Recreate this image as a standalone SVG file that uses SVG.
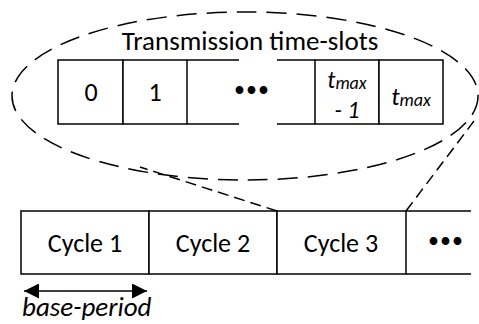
<svg xmlns="http://www.w3.org/2000/svg" width="479" height="324" viewBox="0 0 479 324">
<defs>
<marker id="ah" viewBox="0 0 10 10" refX="10" refY="5" markerWidth="21" markerHeight="15" markerUnits="userSpaceOnUse" orient="auto-start-reverse"><path d="M0,0 L10,5 L0,10 Z" fill="#000"/></marker>
</defs>
<style>
text{font-family:"Carlito","Lato","Liberation Sans",sans-serif;fill:#000}
.b{fill:#fff;stroke:#000;stroke-width:1.5}
.l{stroke:#000;stroke-width:1.5;fill:none}
.t{font-size:26px;text-anchor:middle}
.c{font-size:26px;text-anchor:middle}
.i{font-style:italic;font-size:25px}
.s{font-size:18px}
.dots{font-size:22px;text-anchor:middle;letter-spacing:1px}
.d{stroke:#000;stroke-width:1.5;fill:none;stroke-dasharray:11 6}
</style>
<rect width="479" height="324" fill="#fff"/>
<g id="connectors">
<ellipse cx="245" cy="96" rx="233" ry="84" fill="none" stroke="#000" stroke-width="1.5" stroke-dasharray="20 10"/>
<line class="d" x1="277" y1="211" x2="140" y2="167"/>
<line class="d" x1="406" y1="211" x2="474" y2="121"/>
<line class="l" x1="24" y1="291" x2="147" y2="291" marker-start="url(#ah)" marker-end="url(#ah)"/>
</g>
<g id="timeslots">
<text class="c" x="250" y="50" style="font-size:27px">Transmission time-slots</text>
<g id="slot0"><rect class="b" x="58" y="60" width="65" height="64"/><text class="t" x="91" y="101">0</text></g>
<g id="slot1"><rect class="b" x="123" y="60" width="64" height="64"/><text class="t" x="155" y="101">1</text></g>
<g id="slotdots">
<path class="l" d="M187,60 H239 M277,60 H315 M187,124 H239 M277,124 H315"/>
<text class="dots" x="252" y="97">•••</text>
</g>
<g id="slotmax1"><rect class="b" x="315" y="60" width="64" height="64"/>
<text class="t i" x="347" y="88" style="font-size:24px">t<tspan class="s" dy="1">max</tspan></text>
<text class="t i" x="347" y="118" style="font-size:24px">- 1</text></g>
<g id="slotmax"><rect class="b" x="379" y="60" width="64" height="64"/>
<text class="t i" x="411" y="105">t<tspan class="s" dy="1">max</tspan></text></g>
</g>
<g id="cycle1"><rect class="b" x="21" y="211" width="128" height="63"/><text class="c" x="85" y="252">Cycle 1</text></g>
<g id="cycle2"><rect class="b" x="149" y="211" width="128" height="63"/><text class="c" x="213" y="252">Cycle 2</text></g>
<g id="cycle3"><rect class="b" x="277" y="211" width="129" height="63"/><text class="c" x="341" y="252">Cycle 3</text></g>
<g id="cyclemore"><path class="l" d="M406,211 H471 M406,274 H471"/><text class="dots" x="446" y="248">•••</text></g>
<g id="baseperiod"><text class="i" x="22" y="316" style="font-size:27px">base-period</text></g>
</svg>
